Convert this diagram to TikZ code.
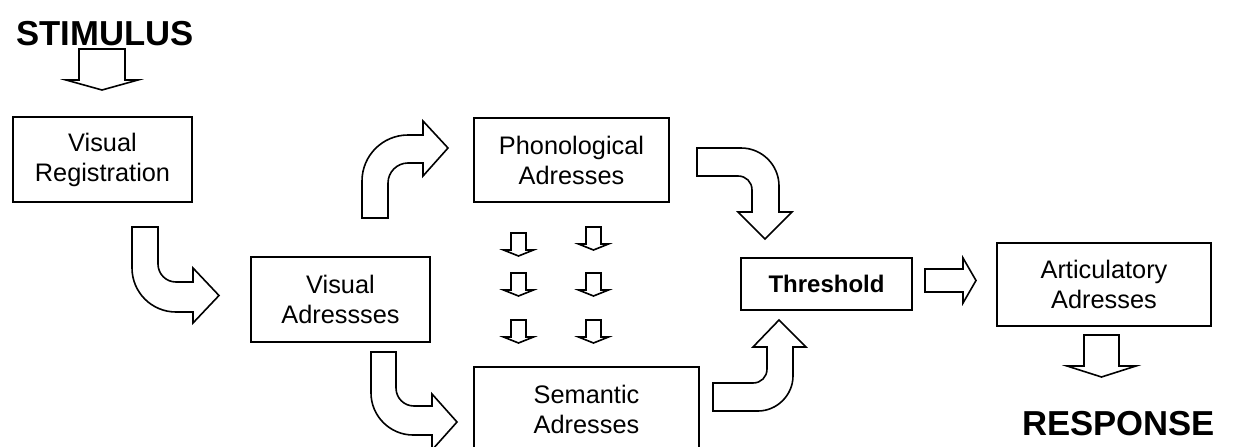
\documentclass[tikz,border=0pt]{standalone}
\usepackage{fontspec}
\setmainfont{Liberation Sans}
\begin{document}
\begin{tikzpicture}[x=0.75pt,y=-0.75pt,
  box/.style={draw, line width=1.2pt, inner sep=0pt, align=center,
    font=\fontsize{19}{22.5}\selectfont},
  blockarrow/.style={draw, line width=1.2pt, fill=white, line join=miter},
  bigword/.style={font=\fontsize{26}{30}\selectfont\bfseries, inner sep=0pt, anchor=base},
  pics/downarr/.style n args={4}{code={
    \draw[blockarrow] (-#1,0) -- (#1,0) -- (#1,#2) -- (#3,#2) -- (0,#4)
      -- (-#3,#2) -- (-#1,#2) -- cycle;
  }}]
\useasboundingbox (0,0) rectangle (1248,446);

% boxes
\node[box, minimum width=134.25pt, minimum height=63.75pt] (vr) at (102.5,159.5) {Visual\\Registration};
\node[box, minimum width=134.25pt, minimum height=63.75pt] (va) at (340.5,299.5) {Visual\\Adressses};
\node[box, minimum width=146.25pt, minimum height=63pt] (phon) at (571.5,160) {Phonological\\Adresses};
\node[box, minimum width=168.75pt, minimum height=63.75pt] (sem) at (586.5,409.5) {Semantic\\Adresses};
\node[box, minimum width=128.25pt, minimum height=39pt, font=\fontsize{18}{21}\selectfont\bfseries] (thr) at (826.5,284) {Threshold};
\node[box, minimum width=160.5pt, minimum height=62.25pt] (art) at (1104,284.5) {Articulatory\\Adresses};

% big words
\node[bigword] (stim) at (105,45) {STIMULUS};
\node[bigword] (resp) at (1118.5,435) {RESPONSE};

% straight block arrows
\pic at (102,49) {downarr={23}{31}{36}{41}};
\pic at (1101.5,335) {downarr={17.5}{31}{34.5}{42}};
\draw[blockarrow] (925,269) -- (963,269) -- (963,258) -- (976,280.5) -- (963,303) -- (963,292) -- (925,292) -- cycle;

% small arrows between phonological and semantic
\pic at (518.5,233) {downarr={7.5}{17}{15}{23}};
\pic at (518.5,273) {downarr={7.5}{17}{15}{23}};
\pic at (518.5,320) {downarr={7.5}{17}{15}{23}};
\pic at (593.5,227) {downarr={7.5}{17}{15}{23}};
\pic at (593.5,273) {downarr={7.5}{17}{15}{23}};
\pic at (593.5,320) {downarr={7.5}{17}{15}{23}};

% curved block arrows
% visual registration -> visual addresses
\draw[blockarrow] (132,227) -- (132,268) .. controls (132,292.3) and (151.7,312) .. (176,312)
  -- (193,312) -- (193,323) -- (219,295.5) -- (193,268) -- (193,282) -- (176,282)
  .. controls (166,282) and (158,274) .. (158,264) -- (158,227) -- cycle;
% visual addresses -> phonological
\draw[blockarrow] (362,218) -- (362,181) .. controls (362,155.6) and (382.6,135) .. (408,135)
  -- (423,135) -- (423,121) -- (448,148) -- (423,176) -- (423,163) -- (408,163)
  .. controls (397,163) and (388,172) .. (388,183) -- (388,218) -- cycle;
% visual addresses -> semantic
\draw[blockarrow] (371,352) -- (371,393) .. controls (371,416) and (390,435) .. (413,435)
  -- (432,435) -- (432,450) -- (457,422) -- (432,394) -- (432,406) -- (414,406)
  .. controls (404,406) and (396,398) .. (396,388) -- (396,352) -- cycle;
% phonological -> threshold
\draw[blockarrow] (697,148) -- (741,148) .. controls (762,148) and (779,165) .. (779,186)
  -- (779,212) -- (792,212) -- (765,239) -- (738,212) -- (752,212) -- (752,190)
  .. controls (752,182) and (746,176) .. (738,176) -- (697,176) -- cycle;
% semantic -> threshold
\draw[blockarrow] (713,383) -- (753,383) .. controls (761,383) and (767,377) .. (767,369)
  -- (767,347) -- (753,347) -- (779,320) -- (806,347) -- (793,347) -- (793,376)
  .. controls (793,395) and (777,411) .. (758,411) -- (713,411) -- cycle;
\end{tikzpicture}
\end{document}
